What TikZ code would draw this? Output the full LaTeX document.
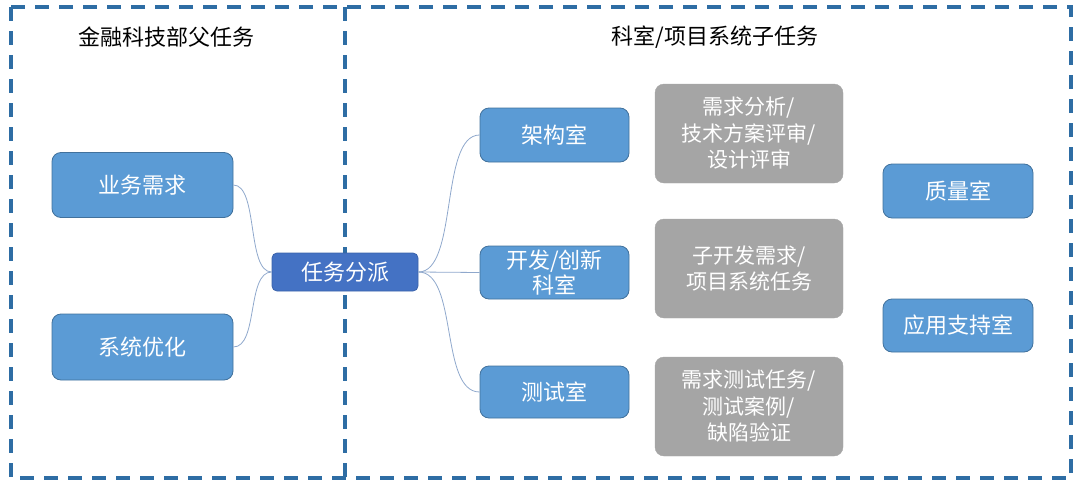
\documentclass[tikz,border=0pt]{standalone}
\usepackage{fontspec}
\setmainfont{Noto Sans CJK SC}
\begin{document}
\begin{tikzpicture}[x=1pt,y=-1pt,
  frame/.style={draw=frameblue,line width=3.5pt,dash pattern=on 14pt off 10pt},
  bluebox/.style={draw=borderblue,fill=boxblue,rounded corners=9pt,line width=0.8pt,text=white,font=\fontsize{22}{25}\selectfont,align=center,inner sep=0pt},
  darkbox/.style={draw=darkborder,fill=darkblue,rounded corners=5pt,line width=0.8pt,text=white,font=\fontsize{22}{25}\selectfont,align=center,inner sep=0pt},
  graybox/.style={draw=boxgray,fill=boxgray,rounded corners=9pt,text=white,font=\fontsize{21}{26.5}\selectfont,align=center,inner sep=0pt},
  title/.style={font=\fontsize{22}{24}\selectfont,text=black},
  link/.style={draw=linkblue,line width=0.8pt}
]
\definecolor{frameblue}{HTML}{2E6DA4}
\definecolor{boxblue}{HTML}{5B9BD5}
\definecolor{borderblue}{HTML}{41719C}
\definecolor{darkblue}{HTML}{4472C4}
\definecolor{darkborder}{HTML}{3A62AA}
\definecolor{boxgray}{HTML}{A5A5A5}
\definecolor{linkblue}{HTML}{8FA8CC}
\useasboundingbox (0,0) rectangle (1085,493);

% frames
\draw[frame] (11,7) rectangle (1071,478);
\draw[frame] (345,7) -- (345,478);

% titles
\node[title] (t1) at (166,37) {金融科技部父任务};
\node[title] (t2) at (715,37) {科室/项目系统子任务};

% left nodes
\node[bluebox,minimum width=181pt,minimum height=65pt] (yw) at (142.5,185) {业务需求};
\node[bluebox,minimum width=181pt,minimum height=66pt] (xt) at (142.5,347) {系统优化};
\node[darkbox,minimum width=146pt,minimum height=38pt] (rw) at (345,272) {任务分派};

% middle nodes
\node[bluebox,minimum width=149pt,minimum height=54pt] (jg) at (554.5,135) {架构室};
\node[bluebox,minimum width=149pt,minimum height=53pt] (kf) at (554.5,272.5) {开发/创新\\科室};
\node[bluebox,minimum width=149pt,minimum height=52pt] (cs) at (554.5,392) {测试室};

% gray nodes
\node[graybox,minimum width=188pt,minimum height=99pt] (g1) at (749,133.5) {需求分析/\\技术方案评审/\\设计评审};
\node[graybox,minimum width=188pt,minimum height=99pt] (g2) at (749,268.5) {子开发需求/\\项目系统任务};
\node[graybox,minimum width=188pt,minimum height=99pt] (g3) at (749,406.5) {需求测试任务/\\测试案例/\\缺陷验证};

% right nodes
\node[bluebox,minimum width=150pt,minimum height=54pt] (zl) at (958,191) {质量室};
\node[bluebox,minimum width=150pt,minimum height=53pt] (yy) at (958,325.5) {应用支持室};

% connectors
\draw[link] (yw.east) .. controls +(25pt,0) and +(-25pt,0) .. (rw.west);
\draw[link] (xt.east) .. controls +(25pt,0) and +(-25pt,0) .. (rw.west);
\draw[link] (rw.east) .. controls +(40pt,0) and +(-40pt,0) .. (jg.west);
\draw[link] (rw.east) -- (kf.west);
\draw[link] (rw.east) .. controls +(40pt,0) and +(-40pt,0) .. (cs.west);
\end{tikzpicture}
\end{document}
